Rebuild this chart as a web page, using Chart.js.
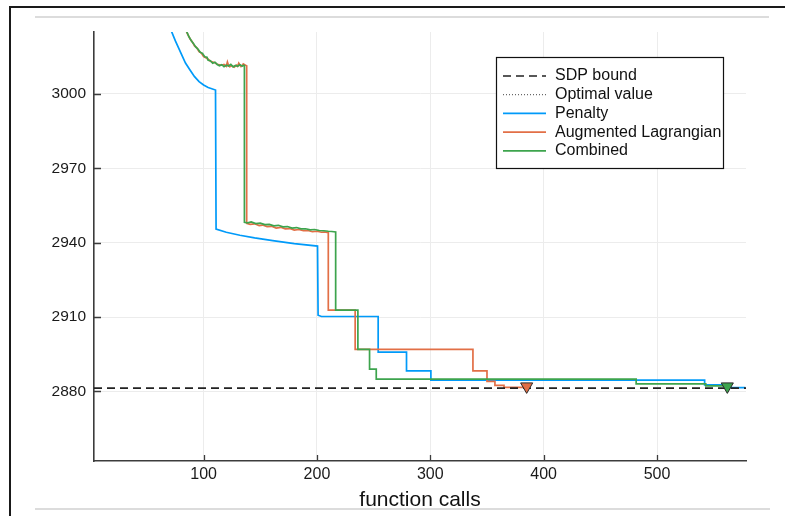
<!DOCTYPE html>
<html>
<head>
<meta charset="utf-8">
<script src="https://cdn.jsdelivr.net/npm/chart.js@4.4.1/dist/chart.umd.min.js"></script>
<style>
  html, body { margin: 0; padding: 0; background: #fff; overflow: hidden; }
  #wrap { position: relative; width: 785px; height: 516px; }
  .rule { position: absolute; pointer-events: none; }
</style>
</head>
<body>
<div id="wrap">
  <canvas id="convChart" width="785" height="516"></canvas>
  <div class="rule" style="left:9px;top:6px;width:2px;height:510px;background:#1a1a1a"></div>
  <div class="rule" style="left:9px;top:6px;width:776px;height:2px;background:#1a1a1a"></div>
  <div class="rule" style="left:35px;top:16px;width:734px;height:2px;background:#dcdcdc"></div>
  <div class="rule" style="left:35px;top:508px;width:735px;height:2px;background:#dcdcdc"></div>
</div>
<script>
// axis ticks
const xTickValues = [100, 200, 300, 400, 500];
const yTickValues = [2880, 2910, 2940, 2970, 3000];

// horizontal reference values
const sdpBound = 2881.3;
const optimalValue = 2881.3;

// Penalty
const penaltyCalls = [71, 75, 80, 84, 88, 92, 96, 100, 104, 110.5, 111, 120, 132, 145, 161, 180, 200.5, 201, 204,
  254, 254, 279, 279, 300.5, 300.5, 542, 542, 560, 562, 578];
const penaltyValues = [3026, 3021.5, 3016.5, 3012.5, 3009.7, 3007, 3005, 3003.6, 3002.6, 3001.6, 2945.5, 2944.2, 2943.0, 2941.9, 2940.8, 2939.6, 2938.6, 2910.7, 2910.2,
  2910.2, 2895.8, 2895.8, 2888.3, 2888.3, 2884.5, 2884.5, 2882.6, 2882.6, 2881.5, 2881.5];

// Augmented Lagrangian
const augLagCalls = [84, 86, 88, 90, 92, 94, 96, 98, 100, 102, 104, 106, 108, 110, 112, 114, 116, 118, 120, 121, 122, 123, 125, 127, 129, 130, 131, 133, 134, 135, 137, 138,
  138, 141, 145, 149, 152, 156, 160, 164, 168, 172, 176, 180, 184, 188, 192, 196, 200, 204, 207, 210,
  210, 233.7, 233.7, 337.6, 337.6, 350, 350, 357, 357, 365, 365, 385];
const augLagValues = [3026, 3024, 3022.3, 3021, 3019.4, 3018.6, 3017.1, 3016.5, 3015.1, 3014.6, 3014, 3013.2, 3012.9, 3012.6, 3012, 3011.8, 3011.6, 3011.9, 3011.2, 3012.9, 3011.5, 3011, 3011.4, 3010.8, 3011.6, 3011.2, 3012.4, 3011, 3011.3, 3012.1, 3011.6, 3011.4,
  2947.8, 2947.4, 2947.6, 2946.9, 2947.1, 2946.5, 2946.6, 2945.9, 2946.2, 2945.6, 2945.7, 2945.1, 2945.3, 2944.8, 2944.9, 2944.4, 2944.6, 2944.2, 2944.3, 2944.0,
  2912.8, 2912.8, 2896.9, 2896.9, 2888.3, 2888.3, 2884.0, 2884.0, 2882.4, 2882.4, 2881.6, 2881.6];

// Combined
const combinedCalls = [84, 85, 87, 89, 91, 93, 95, 97, 99, 101, 103, 104, 106, 108, 110, 112, 114, 116, 118, 120, 122, 124, 126, 128, 130, 132, 134, 135.5, 136,
  136, 139, 142, 146, 150, 154, 158, 162, 166, 170, 174, 178, 182, 186, 190, 194, 198, 202, 206, 210, 213, 216.5,
  216.5, 236.1, 236.1, 246.4, 246.4, 252.3, 252.3, 481.6, 481.6, 543, 543, 562];
const combinedValues = [3026, 3025.3, 3023.1, 3021.6, 3020.4, 3019.0, 3018.1, 3016.8, 3016.4, 3015.0, 3014.8, 3013.6, 3013.4, 3012.4, 3012.8, 3011.9, 3011.4, 3011.8, 3011.0, 3011.6, 3011.3, 3011.9, 3010.9, 3011.5, 3011.2, 3011.8, 3011.3, 3011.6, 3011.4,
  2948.2, 2948.0, 2948.4, 2947.7, 2947.9, 2947.3, 2947.4, 2946.8, 2947.0, 2946.4, 2946.5, 2945.9, 2946.1, 2945.6, 2945.6, 2945.2, 2945.3, 2944.9, 2944.8, 2944.6, 2944.5, 2944.3,
  2912.8, 2912.8, 2896.9, 2896.9, 2889.0, 2889.0, 2884.9, 2884.9, 2883.0, 2883.0, 2882.2, 2882.2];

// points where the optimum was reached
const optimumAugLag = [385, 2882.0];
const optimumCombined = [562, 2882.0];

const X_MIN = 3.3, X_MAX = 578.5;
const Y_MIN = 2851.9, Y_MAX = 3025;

const BLUE = "#009af9";
const ORANGE = "#e26f46";
const GREEN = "#3da44d";
const FONT = "'Liberation Sans', Arial, sans-serif";

const toPoints = (xs, ys) => xs.map((x, i) => ({ x: x, y: ys[i] }));

// ticks drawn on the inner side of the axes
const insideTicks = {
  id: "insideTicks",
  afterDraw(chart) {
    const { ctx, chartArea: a, scales } = chart;
    ctx.save();
    ctx.strokeStyle = "#3c3c3c";
    ctx.lineWidth = 1.3;
    ctx.beginPath();
    scales.x.ticks.forEach(t => {
      const px = Math.round(scales.x.getPixelForValue(t.value)) + 0.5;
      ctx.moveTo(px, a.bottom);
      ctx.lineTo(px, a.bottom - 6);
    });
    scales.y.ticks.forEach(t => {
      const py = Math.round(scales.y.getPixelForValue(t.value)) + 0.5;
      ctx.moveTo(a.left, py);
      ctx.lineTo(a.left + 7, py);
    });
    ctx.stroke();
    ctx.restore();
  }
};

// framed legend inside the plot
const boxLegend = {
  id: "boxLegend",
  afterDraw(chart) {
    const ctx = chart.ctx;
    const items = chart.data.datasets.filter(d => d.inLegend);
    const bx = 496, by = 57, bw = 227, bh = 111;
    ctx.save();
    ctx.fillStyle = "#fff";
    ctx.fillRect(bx, by, bw, bh);
    ctx.strokeStyle = "#111";
    ctx.lineWidth = 1.2;
    ctx.strokeRect(bx + 0.5, by + 0.5, bw, bh);
    ctx.font = "16px " + FONT;
    ctx.textBaseline = "middle";
    items.forEach((d, i) => {
      const y = by + 19 + i * 18.7;
      ctx.beginPath();
      ctx.setLineDash(d.borderDash || []);
      ctx.strokeStyle = d.borderColor;
      ctx.lineWidth = d.borderWidth;
      ctx.moveTo(503, y);
      ctx.lineTo(546, y);
      ctx.stroke();
      ctx.setLineDash([]);
      ctx.fillStyle = "#111";
      ctx.fillText(d.label, 555, y);
    });
    ctx.restore();
  }
};

new Chart(document.getElementById("convChart"), {
  type: "line",
  data: {
    datasets: [
      {
        label: "SDP bound",
        inLegend: true,
        data: toPoints([X_MIN, X_MAX], [sdpBound, sdpBound]),
        borderColor: "#222",
        borderWidth: 1.6,
        borderDash: [8, 5],
        pointRadius: 0,
        order: 1
      },
      {
        // coincides with the SDP bound, only its legend entry is visible
        label: "Optimal value",
        inLegend: true,
        hidden: true,
        data: toPoints([X_MIN, X_MAX], [optimalValue, optimalValue]),
        borderColor: "#444",
        borderWidth: 1,
        borderDash: [1, 2],
        pointRadius: 0,
        order: 5
      },
      {
        label: "Penalty",
        inLegend: true,
        data: toPoints(penaltyCalls, penaltyValues),
        borderColor: BLUE,
        borderWidth: 1.7,
        pointRadius: 0,
        order: 4
      },
      {
        label: "Augmented Lagrangian",
        inLegend: true,
        data: toPoints(augLagCalls, augLagValues),
        borderColor: ORANGE,
        borderWidth: 1.7,
        pointRadius: 0,
        order: 3
      },
      {
        label: "Combined",
        inLegend: true,
        data: toPoints(combinedCalls, combinedValues),
        borderColor: GREEN,
        borderWidth: 1.7,
        pointRadius: 0,
        order: 2
      },
      {
        label: "",
        data: [{ x: optimumAugLag[0], y: optimumAugLag[1] }, { x: optimumCombined[0], y: optimumCombined[1] }],
        showLine: false,
        pointStyle: "triangle",
        rotation: 180,
        pointRadius: 7,
        backgroundColor: [ORANGE, GREEN],
        borderColor: "#2a2a2a",
        borderWidth: 1,
        order: 0
      }
    ]
  },
  options: {
    responsive: false,
    animation: false,
    devicePixelRatio: 1,
    layout: { padding: { top: 32, right: 39, left: 0, bottom: 0 } },
    plugins: {
      legend: { display: false },
      tooltip: { enabled: false }
    },
    scales: {
      x: {
        type: "linear",
        min: X_MIN,
        max: X_MAX,
        afterBuildTicks: s => { s.ticks = xTickValues.map(v => ({ value: v })); },
        afterFit: s => { s.height = 55; },
        grid: { color: "#ececec", lineWidth: 1, drawTicks: false },
        border: { display: true, color: "#3c3c3c", width: 1.6 },
        ticks: { color: "#1a1a1a", font: { family: FONT, size: 16 }, padding: 4, maxRotation: 0, callback: v => String(v) },
        title: {
          display: true,
          text: "function calls",
          color: "#111",
          font: { family: FONT, size: 21 },
          padding: { top: 0, bottom: 3 }
        }
      },
      y: {
        type: "linear",
        min: Y_MIN,
        max: Y_MAX,
        afterBuildTicks: s => { s.ticks = yTickValues.map(v => ({ value: v })); },
        afterFit: s => { s.width = 94; },
        grid: { color: "#ececec", lineWidth: 1, drawTicks: false },
        border: { display: true, color: "#3c3c3c", width: 1.6 },
        ticks: { color: "#1a1a1a", font: { family: FONT, size: 15.5 }, padding: 8, callback: v => String(v) }
      }
    }
  },
  plugins: [insideTicks, boxLegend]
});
</script>
</body>
</html>
